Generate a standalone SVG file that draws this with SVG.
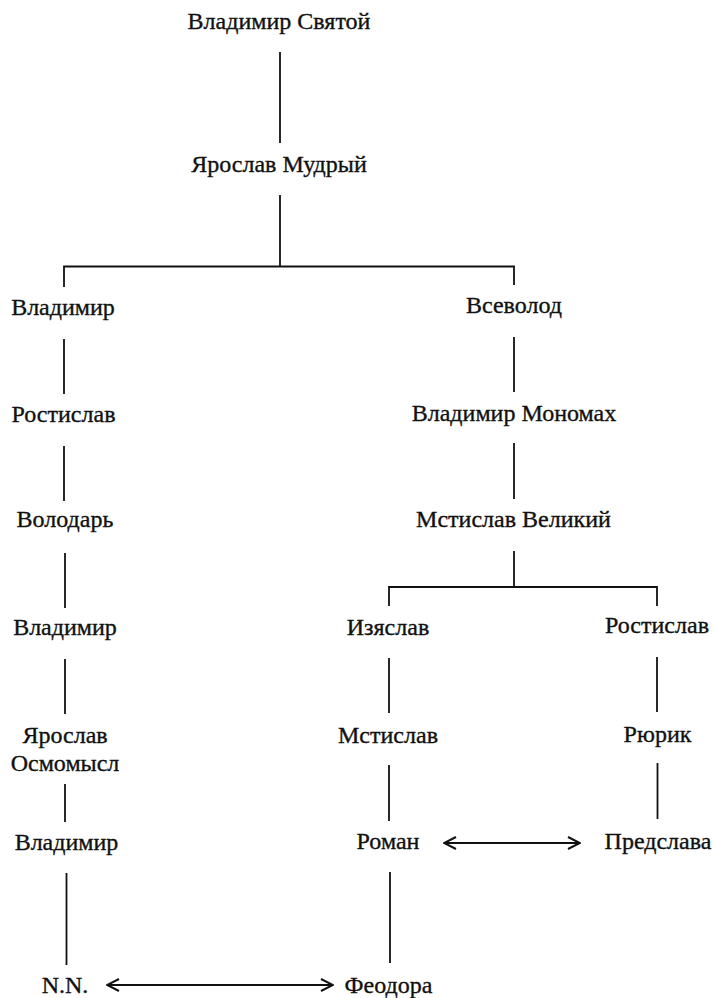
<svg xmlns="http://www.w3.org/2000/svg" width="715" height="998" viewBox="0 0 715 998">
<defs>
<style>
text{font-family:"Liberation Serif","Times New Roman","DejaVu Serif",serif;font-size:24px;fill:#111;stroke:#111;stroke-width:0.35;text-anchor:middle}
.ln{stroke:#111;stroke-width:1.8;fill:none}
.ar{stroke:#111;stroke-width:2;fill:none}
</style>
<marker id="ah" viewBox="0 0 14 14" refX="13" refY="7" markerWidth="14" markerHeight="14" markerUnits="userSpaceOnUse" orient="auto-start-reverse">
<path d="M1,1 L13,7 L1,13" fill="none" stroke="#111" stroke-width="2"/>
</marker>
</defs>
<rect width="715" height="998" fill="#fff"/>
<g id="connectors">
<line class="ln" x1="280" y1="52" x2="280" y2="143"/>
<line class="ln" x1="280" y1="195" x2="280" y2="267"/>
<polyline class="ln" points="64,287 64,266.5 514,266.5 514,285"/>
<line class="ln" x1="64" y1="339" x2="64" y2="394"/>
<line class="ln" x1="514" y1="337" x2="514" y2="392"/>
<line class="ln" x1="64" y1="446" x2="64" y2="501"/>
<line class="ln" x1="514" y1="443" x2="514" y2="499"/>
<line class="ln" x1="65" y1="553" x2="65" y2="608"/>
<line class="ln" x1="514" y1="551" x2="514" y2="587"/>
<polyline class="ln" points="389,606 389,587 657,587 657,606"/>
<line class="ln" x1="65" y1="659" x2="65" y2="714"/>
<line class="ln" x1="389" y1="658" x2="389" y2="713"/>
<line class="ln" x1="657" y1="657" x2="657" y2="712"/>
<line class="ln" x1="65" y1="784" x2="65" y2="822"/>
<line class="ln" x1="389" y1="765" x2="389" y2="821"/>
<line class="ln" x1="657.5" y1="763" x2="657.5" y2="819"/>
<line class="ln" x1="66.5" y1="873" x2="66.5" y2="965"/>
<line class="ln" x1="390" y1="872" x2="390" y2="963"/>
<line class="ar" x1="444" y1="843" x2="580" y2="843" marker-start="url(#ah)" marker-end="url(#ah)"/>
<line class="ar" x1="107" y1="985" x2="333" y2="985" marker-start="url(#ah)" marker-end="url(#ah)"/>
</g>
<g id="n1"><text x="279" y="29">Владимир Святой</text></g>
<g id="n2"><text x="279" y="172">Ярослав Мудрый</text></g>
<g id="n3"><text x="63" y="315">Владимир</text></g>
<g id="n4"><text x="514" y="313">Всеволод</text></g>
<g id="n5"><text x="63.5" y="422">Ростислав</text></g>
<g id="n6"><text x="514" y="421">Владимир Мономах</text></g>
<g id="n7"><text x="65" y="527">Володарь</text></g>
<g id="n8"><text x="513.5" y="527">Мстислав Великий</text></g>
<g id="n9"><text x="65" y="635">Владимир</text></g>
<g id="n10"><text x="388" y="635">Изяслав</text></g>
<g id="n11"><text x="657" y="633">Ростислав</text></g>
<g id="n12"><text x="65" y="743">Ярослав</text><text x="65" y="771">Осмомысл</text></g>
<g id="n13"><text x="388" y="743">Мстислав</text></g>
<g id="n14"><text x="657.5" y="742">Рюрик</text></g>
<g id="n15"><text x="66.5" y="850">Владимир</text></g>
<g id="n16"><text x="388" y="849">Роман</text></g>
<g id="n17"><text x="658" y="849">Предслава</text></g>
<g id="n18"><text x="65" y="993">N.N.</text></g>
<g id="n19"><text x="388.5" y="993">Феодора</text></g>
</svg>
